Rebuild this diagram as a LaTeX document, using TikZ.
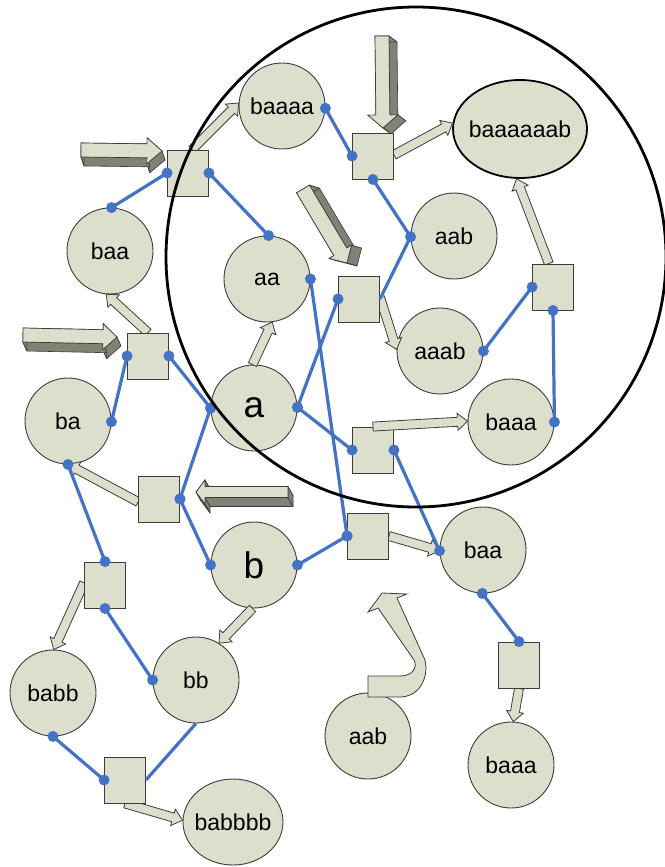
\documentclass[tikz,border=0pt]{standalone}
\usepackage{fontspec}
\setmainfont{Liberation Sans}
\usetikzlibrary{calc,shapes.geometric}
\definecolor{face}{RGB}{220,223,203}
\definecolor{edgegray}{RGB}{60,60,60}
\definecolor{sidegray}{RGB}{128,130,118}
\definecolor{linkblue}{RGB}{68,114,196}
\newcommand\fsN{\fontsize{23}{27}\selectfont}
\newcommand\fsB{\fontsize{37}{40}\selectfont}
\pgfdeclarelayer{back}\pgfdeclarelayer{mid}\pgfdeclarelayer{front}
\pgfsetlayers{back,mid,main,front}
\tikzset{
 stnode/.style={circle, draw=edgegray, line width=0.9pt, fill=face, minimum size=86pt, inner sep=0pt, font=\fsN},
 bignode/.style={stnode, font=\fsB},
 ellnode/.style={ellipse, draw=edgegray, line width=0.9pt, fill=face, inner sep=0pt},
 trbox/.style={rectangle, draw=edgegray, line width=0.9pt, fill=face, minimum width=41pt, minimum height=46pt, inner sep=0pt},
 link/.style={draw=linkblue, line width=3.2pt},
 flatarrow/.style={fill=face, draw=edgegray, line width=0.8pt},
 sideface/.style={fill=sidegray, draw=edgegray, line width=0.6pt, line join=round},
 frontface/.style={fill=face, draw=edgegray, line width=0.7pt},
 region/.style={draw=black, line width=2.8pt},
}
\newcommand\arrowpts[5]{%
 \path let \p1=(#1), \p2=(#2), \n1={atan2(\y2-\y1,\x2-\x1)}, \n2={veclen(\x2-\x1,\y2-\y1)} in
  coordinate (q1) at ($(\p1)+({\n1+90}:#3)$)
  coordinate (q2) at ($(\p1)+({\n1}:{\n2-#5})+({\n1+90}:#3)$)
  coordinate (q3) at ($(\p1)+({\n1}:{\n2-#5})+({\n1+90}:#4)$)
  coordinate (q4) at (\p2)
  coordinate (q5) at ($(\p1)+({\n1}:{\n2-#5})+({\n1-90}:#4)$)
  coordinate (q6) at ($(\p1)+({\n1}:{\n2-#5})+({\n1-90}:#3)$)
  coordinate (q7) at ($(\p1)+({\n1-90}:#3)$);}
\newcommand\outarrow[2]{\arrowpts{#1}{#2}{4.5pt}{8.5pt}{10pt}%
 \filldraw[flatarrow] (q1)--(q2)--(q3)--(q4)--(q5)--(q6)--(q7)--cycle;}
\newcommand\solidarrow[7]{\arrowpts{#1}{#2}{#3}{#4}{#5}%
 \foreach \ia/\ib in {q1/q2,q2/q3,q3/q4,q4/q5,q5/q6,q6/q7,q7/q1}{%
  \filldraw[sideface] (\ia) -- (\ib) -- ($(\ib)+(#6,#7)$) -- ($(\ia)+(#6,#7)$) -- cycle;}%
 \filldraw[frontface] (q1)--(q2)--(q3)--(q4)--(q5)--(q6)--(q7)--cycle;}
\newcommand\lk[2]{\draw[link] (#1) -- (#2); \fill[linkblue] (#1) circle (5.5pt) (#2) circle (5.5pt);}
\begin{document}
\begin{tikzpicture}[x=1pt,y=-1pt]
\useasboundingbox (0,0) rectangle (664,867);
\begin{pgfonlayer}{back}
\node[stnode] (baaaa) at (282,106) {baaaa};
\node[ellnode, draw=black, line width=1.8pt, minimum width=134pt, minimum height=98pt, label={[font=\fsN]center:baaaaaab}] (b8) at (520,129) {};
\node[stnode] (baaL) at (110,251) {baa};
\node[stnode] (aa) at (267,279) {aa};
\node[stnode] (aabI) at (454,236) {aab};
\node[stnode] (aaab) at (440,351) {aaab};
\node[stnode] (baaaI) at (511,422) {baaa};
\node[bignode] (a) at (254,408) {a};
\node[stnode] (ba) at (68,421) {ba};
\node[bignode] (b) at (254,565) {b};
\node[stnode] (bb) at (196,680) {bb};
\node[stnode] (babb) at (53,693) {babb};
\node[ellnode, minimum width=100pt, minimum height=86pt, label={[font=\fsN]center:babbbb}] (b6) at (233,822) {};
\node[stnode] (baaR) at (483,550) {baa};
\node[stnode] (aabB) at (368,736) {aab};
\node[stnode] (baaaB) at (511,765) {baaa};
\end{pgfonlayer}
\node[trbox] (T1) at (188,173) {};
\node[trbox] (T2) at (148,356) {};
\node[trbox] (T3) at (373,156) {};
\node[trbox] (T4) at (359,299) {};
\node[trbox] (T5) at (553,287) {};
\node[trbox] (T6) at (373,450) {};
\node[trbox] (T7) at (159,499) {};
\node[trbox] (T8) at (105,585) {};
\node[trbox] (T9) at (368,536) {};
\node[trbox] (T10) at (519,665) {};
\node[trbox] (T11) at (125,780) {};
\begin{pgfonlayer}{mid}
\outarrow{T1.80}{baaaa.176}
\outarrow{T2.north}{baaL.265}
\outarrow{T3.3}{b8.175}
\outarrow{T4.5}{aaab.178}
\outarrow{a.92}{aa.277}
\outarrow{T7.188}{ba.south}
\outarrow{T8.174}{babb.89}
\outarrow{b.268}{bb.58}
\outarrow{T9.east}{baaR.181}
\outarrow{T10.south}{baaaB.87}
\outarrow{T11.south}{b6.178}
\outarrow{T5.100}{b8.266}
\end{pgfonlayer}
\begin{pgfonlayer}{front}
\outarrow{T6.north}{baaaI.179}
\lk{baaL.88}{T1.west}
\lk{T1.east}{aa.88}
\lk{baaaa.-3}{T3.west}
\lk{T3.south}{aabI.181}
\draw[link] (aabI.181) -- (T4.east);
\lk{T4.west}{a.1}
\lk{aa.east}{T9.west}
\lk{a.1}{T6.west}
\lk{T6.east}{baaR.181}
\lk{b.east}{T9.west}
\lk{baaR.269}{T10.north}
\lk{aaab.east}{T5.west}
\lk{T5.south}{baaaI.east}
\lk{T2.west}{ba.-1}
\lk{T2.east}{a.west}
\lk{a.west}{T7.east}
\lk{T7.east}{b.west}
\lk{ba.south}{T8.north}
\lk{T8.south}{bb.west}
\lk{babb.south}{T11.west}
\draw[link] (bb.south) -- (T11.east);
\coordinate (i1s) at (81,150); \coordinate (i1e) at (162,151);
\solidarrow{i1s}{i1e}{7pt}{13pt}{15pt}{3}{9}
\coordinate (i2s) at (23,335); \coordinate (i2e) at (117,337);
\solidarrow{i2s}{i2e}{7pt}{13pt}{14pt}{4}{9}
\coordinate (i3s) at (382,36); \coordinate (i3e) at (383,128);
\solidarrow{i3s}{i3e}{7pt}{15pt}{13pt}{8}{6}
\coordinate (i4s) at (303,189); \coordinate (i4e) at (347,263);
\solidarrow{i4s}{i4e}{7.5pt}{13pt}{13pt}{10}{3}
\coordinate (i5s) at (288,492); \coordinate (i5e) at (196,492);
\solidarrow{i5s}{i5e}{5.5pt}{12pt}{9pt}{5}{9}
\filldraw[flatarrow] (368,676) -- (368,697) -- (400,697) .. controls (416,697) and (426,684) .. (426,667) -- (425,660) -- (397,598) -- (407,594) -- (382,593) -- (368,612) -- (378,608) -- (414,660) .. controls (418,668) and (412,676) .. (400,676) -- cycle;
\draw[region] (416,257) circle (250pt);
\end{pgfonlayer}
\end{tikzpicture}
\end{document}
